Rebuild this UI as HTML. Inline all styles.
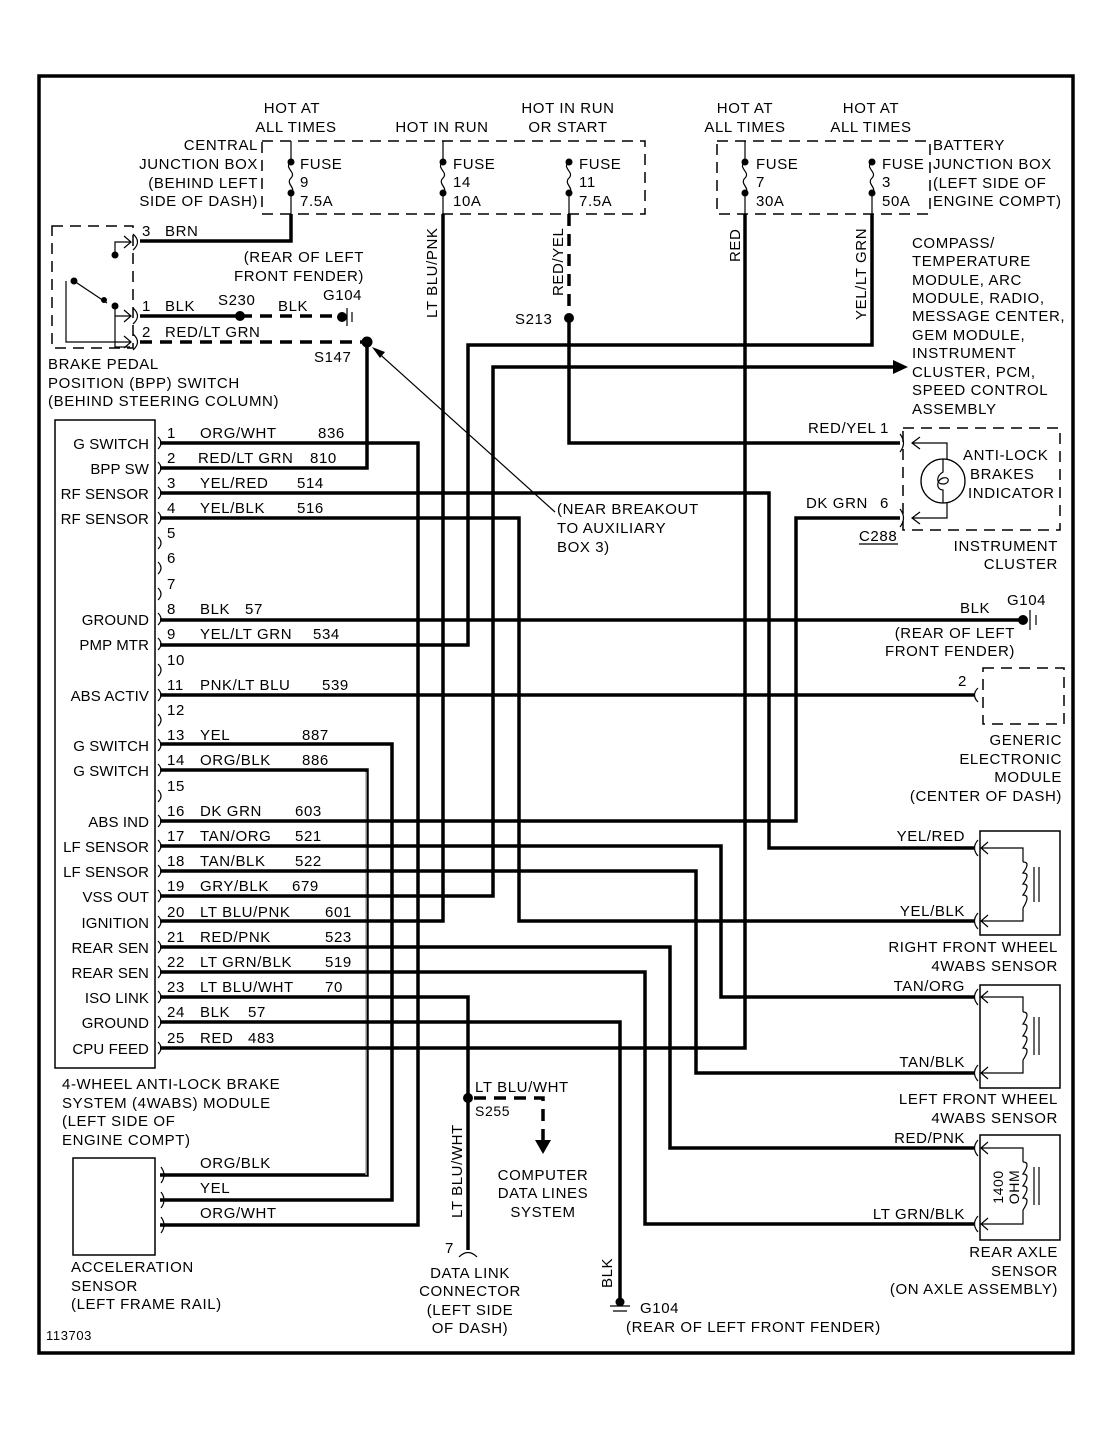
<!DOCTYPE html>
<html><head><meta charset="utf-8"><style>
html,body{margin:0;padding:0;background:#fff}
svg{display:block}
text{font-family:"Liberation Sans",Arial,sans-serif;font-size:15px;fill:#000;letter-spacing:0.6px}
.w{stroke:#000;stroke-width:3.5;fill:none}
.t{stroke:#000;stroke-width:1.2;fill:none}
.d{stroke:#000;stroke-width:1.5;fill:none;stroke-dasharray:11,7}
.dw{stroke:#000;stroke-width:3.5;fill:none;stroke-dasharray:12,8}
.r{text-anchor:end}
.m{text-anchor:middle}
.ml text{letter-spacing:0.1px}
</style></head><body>
<svg width="1112" height="1429" viewBox="0 0 1112 1429" xmlns="http://www.w3.org/2000/svg">
<rect x="39" y="76" width="1034" height="1277" fill="none" stroke="#000" stroke-width="3.5"/>

<text x="292" y="113" class="m">HOT AT</text>
<text x="296" y="132" class="m">ALL TIMES</text>
<text x="442" y="132" class="m">HOT IN RUN</text>
<text x="568" y="113" class="m">HOT IN RUN</text>
<text x="568" y="132" class="m">OR START</text>
<text x="745" y="113" class="m">HOT AT</text>
<text x="745" y="132" class="m">ALL TIMES</text>
<text x="871" y="113" class="m">HOT AT</text>
<text x="871" y="132" class="m">ALL TIMES</text>
<text x="258" y="150" class="r">CENTRAL</text>
<text x="258" y="169" class="r">JUNCTION BOX</text>
<text x="258" y="188" class="r">(BEHIND LEFT</text>
<text x="258" y="206" class="r">SIDE OF DASH)</text>
<text x="933" y="150">BATTERY</text>
<text x="933" y="169">JUNCTION BOX</text>
<text x="933" y="188">(LEFT SIDE OF</text>
<text x="933" y="206">ENGINE COMPT)</text>

<path class="d" d="M262 141 H645 V214 H262 Z"/>
<path class="d" d="M717 141 H930 V214 H717 Z"/>
<g>
<path class="t" d="M291 141 V162 M291 193 V214"/>
<path class="t" d="M291 162 C283 168,297 172,291 178 C285 184,297 188,291 193"/>
<circle cx="291" cy="162" r="3.5"/><circle cx="291" cy="193" r="3.5"/>
<text x="300" y="169">FUSE</text><text x="300" y="187">9</text><text x="300" y="206">7.5A</text>

<path class="t" d="M443 141 V162 M443 193 V214"/>
<path class="t" d="M443 162 C435 168,449 172,443 178 C437 184,449 188,443 193"/>
<circle cx="443" cy="162" r="3.5"/><circle cx="443" cy="193" r="3.5"/>
<text x="453" y="169">FUSE</text><text x="453" y="187">14</text><text x="453" y="206">10A</text>

<path class="t" d="M569 193 V214"/>
<path class="t" d="M569 162 C561 168,575 172,569 178 C563 184,575 188,569 193"/>
<circle cx="569" cy="162" r="3.5"/><circle cx="569" cy="193" r="3.5"/>
<text x="579" y="169">FUSE</text><text x="579" y="187">11</text><text x="579" y="206">7.5A</text>

<path class="t" d="M745 141 V162 M745 193 V214"/>
<path class="t" d="M745 162 C737 168,751 172,745 178 C739 184,751 188,745 193"/>
<circle cx="745" cy="162" r="3.5"/><circle cx="745" cy="193" r="3.5"/>
<text x="756" y="169">FUSE</text><text x="756" y="187">7</text><text x="756" y="206">30A</text>

<path class="t" d="M872 193 V214"/>
<path class="t" d="M872 162 C864 168,878 172,872 178 C866 184,878 188,872 193"/>
<circle cx="872" cy="162" r="3.5"/><circle cx="872" cy="193" r="3.5"/>
<text x="882" y="169">FUSE</text><text x="882" y="187">3</text><text x="882" y="206">50A</text>
</g>

<path class="d" d="M52 226 H133 V348 H52 Z"/>
<path class="t" d="M115 256 V242 H130 M115 315 V347 H130 M66 281 V342 H130 M74 281 L107 303 M115 305 V316 H130"/>
<circle cx="115" cy="255" r="3.5"/><circle cx="74" cy="281" r="3.5"/><circle cx="104" cy="300" r="3"/><circle cx="115" cy="306" r="3.5"/>
<path class="t" d="M124 236 L131 242 L124 248 M124 310 L131 316 L124 322 M124 336 L131 342 L124 348"/>
<path class="t" d="M133 234 Q142 242 133 250 M133 308 Q142 316 133 324 M133 334 Q142 342 133 350"/>
<path class="w" d="M140 241 H291 V214"/>
<text x="142" y="236">3</text><text x="165" y="236">BRN</text>
<path class="w" d="M140 316 H240"/>
<path class="dw" d="M240 316 H340"/>
<circle cx="240" cy="316" r="5"/><circle cx="342" cy="317" r="5"/>
<path class="t" d="M347 308 V326 M352 312 V322"/>
<text x="142" y="311">1</text><text x="165" y="311">BLK</text><text x="218" y="305">S230</text><text x="278" y="311">BLK</text>
<text x="323" y="300">G104</text>
<text x="364" y="262" class="r">(REAR OF LEFT</text>
<text x="364" y="281" class="r">FRONT FENDER)</text>
<path class="dw" d="M140 342 H367"/>
<circle cx="367" cy="342" r="5.5"/>
<text x="142" y="337">2</text><text x="165" y="337">RED/LT GRN</text>
<text x="314" y="362">S147</text>
<text x="48" y="369">BRAKE PEDAL</text>
<text x="48" y="388">POSITION (BPP) SWITCH</text>
<text x="48" y="406">(BEHIND STEERING COLUMN)</text>
<path class="w" d="M367 342 V468 H160"/>
<path class="t" d="M555 512 L374 349"/>
<path d="M372 347 L385 352 L380 358 Z"/>
<text x="557" y="514">(NEAR BREAKOUT</text>
<text x="557" y="533">TO AUXILIARY</text>
<text x="557" y="552">BOX 3)</text>

<rect x="55" y="420" width="100" height="648" fill="none" stroke="#000" stroke-width="1.5"/>
<g class="t">
<path d="M158 437 Q164 443 158 449 M158 462 Q164 468 158 474 M158 487 Q164 493 158 499 M158 512 Q164 518 158 524 M158 537 Q164 543 158 549 M158 562 Q164 568 158 574 M158 588 Q164 594 158 600 M158 613 Q164 619 158 625 M158 638 Q164 644 158 650 M158 664 Q164 670 158 676 M158 689 Q164 695 158 701 M158 714 Q164 720 158 726 M158 739 Q164 745 158 751 M158 764 Q164 770 158 776 M158 790 Q164 796 158 802 M158 815 Q164 821 158 827 M158 840 Q164 846 158 852 M158 865 Q164 871 158 877 M158 890 Q164 896 158 902 M158 916 Q164 922 158 928 M158 941 Q164 947 158 953 M158 966 Q164 972 158 978 M158 991 Q164 997 158 1003 M158 1016 Q164 1022 158 1028 M158 1042 Q164 1048 158 1054"/>
</g>
<g class="ml">
<text x="149" y="449" class="r">G SWITCH</text>
<text x="149" y="474" class="r">BPP SW</text>
<text x="149" y="499" class="r">RF SENSOR</text>
<text x="149" y="524" class="r">RF SENSOR</text>
<text x="149" y="625" class="r">GROUND</text>
<text x="149" y="650" class="r">PMP MTR</text>
<text x="149" y="701" class="r">ABS ACTIV</text>
<text x="149" y="751" class="r">G SWITCH</text>
<text x="149" y="776" class="r">G SWITCH</text>
<text x="149" y="827" class="r">ABS IND</text>
<text x="149" y="852" class="r">LF SENSOR</text>
<text x="149" y="877" class="r">LF SENSOR</text>
<text x="149" y="902" class="r">VSS OUT</text>
<text x="149" y="928" class="r">IGNITION</text>
<text x="149" y="953" class="r">REAR SEN</text>
<text x="149" y="978" class="r">REAR SEN</text>
<text x="149" y="1003" class="r">ISO LINK</text>
<text x="149" y="1028" class="r">GROUND</text>
<text x="149" y="1054" class="r">CPU FEED</text>
</g>
<text x="167" y="438">1</text><text x="200" y="438">ORG/WHT</text><text x="318" y="438">836</text>
<text x="167" y="463">2</text><text x="198" y="463">RED/LT GRN</text><text x="310" y="463">810</text>
<text x="167" y="488">3</text><text x="200" y="488">YEL/RED</text><text x="297" y="488">514</text>
<text x="167" y="513">4</text><text x="200" y="513">YEL/BLK</text><text x="297" y="513">516</text>
<text x="167" y="538">5</text><text x="167" y="563">6</text><text x="167" y="589">7</text>
<text x="167" y="614">8</text><text x="200" y="614">BLK</text><text x="245" y="614">57</text>
<text x="167" y="639">9</text><text x="200" y="639">YEL/LT GRN</text><text x="313" y="639">534</text>
<text x="167" y="665">10</text>
<text x="167" y="690">11</text><text x="200" y="690">PNK/LT BLU</text><text x="322" y="690">539</text>
<text x="167" y="715">12</text>
<text x="167" y="740">13</text><text x="200" y="740">YEL</text><text x="302" y="740">887</text>
<text x="167" y="765">14</text><text x="200" y="765">ORG/BLK</text><text x="302" y="765">886</text>
<text x="167" y="791">15</text>
<text x="167" y="816">16</text><text x="200" y="816">DK GRN</text><text x="295" y="816">603</text>
<text x="167" y="841">17</text><text x="200" y="841">TAN/ORG</text><text x="295" y="841">521</text>
<text x="167" y="866">18</text><text x="200" y="866">TAN/BLK</text><text x="295" y="866">522</text>
<text x="167" y="891">19</text><text x="200" y="891">GRY/BLK</text><text x="292" y="891">679</text>
<text x="167" y="917">20</text><text x="200" y="917">LT BLU/PNK</text><text x="325" y="917">601</text>
<text x="167" y="942">21</text><text x="200" y="942">RED/PNK</text><text x="325" y="942">523</text>
<text x="167" y="967">22</text><text x="200" y="967">LT GRN/BLK</text><text x="325" y="967">519</text>
<text x="167" y="992">23</text><text x="200" y="992">LT BLU/WHT</text><text x="325" y="992">70</text>
<text x="167" y="1017">24</text><text x="200" y="1017">BLK</text><text x="248" y="1017">57</text>
<text x="167" y="1043">25</text><text x="200" y="1043">RED</text><text x="248" y="1043">483</text>

<path class="w" d="M160 443 H418 V1225 H160"/>
<path class="w" d="M160 493 H769 V848 H975"/>
<path class="w" d="M160 518 H519 V921 H975"/>
<path class="w" d="M160 620 H1022"/>
<path class="w" d="M160 645 H468 V345 H872 V214"/>
<path class="w" d="M160 695 H975"/>
<path class="w" d="M160 744 H392 V1200 H160"/>
<path d="M160 770 H367 V1175 H160" fill="none" stroke="#000" stroke-width="3.5"/>
<path d="M366 772 V1175" fill="none" stroke="#fff" stroke-width="1"/>
<path class="w" d="M160 821 H796 V518 H900"/>
<path class="w" d="M160 846 H721 V997 H975"/>
<path class="w" d="M160 871 H696 V1073 H975"/>
<path class="w" d="M160 896 H493 V367 H893"/>
<path d="M893 360 L908 367 L893 374 Z"/>
<path class="w" d="M160 921 H443 V214"/>
<path class="w" d="M160 947 H670 V1148 H975"/>
<path class="w" d="M160 972 H645 V1224 H975"/>
<path class="w" d="M160 997 H468 V1250"/>
<path class="w" d="M160 1022 H620 V1300"/>
<path class="w" d="M160 1048 H745 V214"/>
<path class="dw" d="M569 214 V318"/>
<path class="w" d="M569 318 V443 H900"/>
<circle cx="569" cy="318" r="5"/>
<text x="515" y="324">S213</text>

<text transform="translate(437,318) rotate(-90)">LT BLU/PNK</text>
<text transform="translate(563,296) rotate(-90)">RED/YEL</text>
<text transform="translate(740,262) rotate(-90)">RED</text>
<text transform="translate(866,320) rotate(-90)">YEL/LT GRN</text>
<text transform="translate(462,1218) rotate(-90)">LT BLU/WHT</text>
<text transform="translate(612,1288) rotate(-90)">BLK</text>

<text x="912" y="248">COMPASS/</text>
<text x="912" y="266">TEMPERATURE</text>
<text x="912" y="285">MODULE, ARC</text>
<text x="912" y="303">MODULE, RADIO,</text>
<text x="912" y="321">MESSAGE CENTER,</text>
<text x="912" y="340">GEM MODULE,</text>
<text x="912" y="358">INSTRUMENT</text>
<text x="912" y="377">CLUSTER, PCM,</text>
<text x="912" y="395">SPEED CONTROL</text>
<text x="912" y="414">ASSEMBLY</text>

<path class="d" d="M903 428 H1060 V530 H903 Z"/>
<path class="t" d="M900 434 Q907 443 900 452 M900 509 Q907 518 900 527"/>
<path class="t" d="M920 437 L912 443 L920 449 M920 512 L912 518 L920 524 M912 443 H947 V518 H912"/>
<circle cx="943" cy="481" r="22" fill="#fff" stroke="#000" stroke-width="1.3"/>
<path class="t" d="M943 459 V472 C936 476,936 484,943 484 C950 484,950 476,943 478 C936 480,936 490,943 490 V503"/>
<text x="808" y="433">RED/YEL</text><text x="880" y="433">1</text>
<text x="806" y="508">DK GRN</text><text x="880" y="508">6</text>
<text x="859" y="541">C288</text><path class="t" d="M859 544 H898"/>
<text x="963" y="460">ANTI-LOCK</text>
<text x="970" y="479">BRAKES</text>
<text x="968" y="498">INDICATOR</text>
<text x="1058" y="551" class="r">INSTRUMENT</text>
<text x="1058" y="569" class="r">CLUSTER</text>

<circle cx="1023" cy="620" r="5"/>
<path class="t" d="M1030 610 V630 M1036 615 V625"/>
<text x="960" y="613">BLK</text><text x="1007" y="605">G104</text>
<text x="1015" y="638" class="r">(REAR OF LEFT</text>
<text x="1015" y="656" class="r">FRONT FENDER)</text>

<path class="d" d="M983 668 H1064 V724 H983 Z"/>
<path class="t" d="M978 688 Q971 695 978 702"/>
<text x="958" y="686">2</text>
<text x="1062" y="745" class="r">GENERIC</text>
<text x="1062" y="764" class="r">ELECTRONIC</text>
<text x="1062" y="782" class="r">MODULE</text>
<text x="1062" y="801" class="r">(CENTER OF DASH)</text>

<g>
<rect x="980" y="831" width="80" height="104" fill="none" stroke="#000" stroke-width="1.5"/>
<path class="t" d="M978 840 Q971 848 978 856 M978 913 Q971 921 978 929 M988 842 L981 848 L988 854 M988 915 L981 921 L988 927 M981 848 H1023 V862 M1023 908 V921 H981 M1023 862 q8 0 0 11 q8 0 0 11 q8 0 0 11 q8 0 0 13 M1034 867 V902 M1039 867 V902"/>
<text x="965" y="841" class="r">YEL/RED</text>
<text x="965" y="916" class="r">YEL/BLK</text>
<text x="1058" y="952" class="r">RIGHT FRONT WHEEL</text>
<text x="1058" y="971" class="r">4WABS SENSOR</text>

<rect x="980" y="985" width="80" height="103" fill="none" stroke="#000" stroke-width="1.5"/>
<path class="t" d="M978 989 Q971 997 978 1005 M978 1065 Q971 1073 978 1081 M988 991 L981 997 L988 1003 M988 1067 L981 1073 L988 1079 M981 997 H1023 V1012 M1023 1060 V1073 H981 M1023 1012 q8 0 0 12 q8 0 0 12 q8 0 0 12 q8 0 0 12 M1034 1017 V1055 M1039 1017 V1055"/>
<text x="965" y="991" class="r">TAN/ORG</text>
<text x="965" y="1067" class="r">TAN/BLK</text>
<text x="1058" y="1104" class="r">LEFT FRONT WHEEL</text>
<text x="1058" y="1123" class="r">4WABS SENSOR</text>

<rect x="980" y="1135" width="80" height="105" fill="none" stroke="#000" stroke-width="1.5"/>
<path class="t" d="M978 1140 Q971 1148 978 1156 M978 1216 Q971 1224 978 1232 M988 1142 L981 1148 L988 1154 M988 1218 L981 1224 L988 1230 M981 1148 H1023 V1162 M1023 1210 V1224 H981 M1023 1162 q8 0 0 12 q8 0 0 12 q8 0 0 12 q8 0 0 12 M1034 1167 V1205 M1039 1167 V1205"/>
<text transform="translate(1003,1187) rotate(-90)" class="m" style="font-size:14px">1400</text>
<text transform="translate(1019,1187) rotate(-90)" class="m" style="font-size:14px">OHM</text>
<text x="965" y="1143" class="r">RED/PNK</text>
<text x="965" y="1219" class="r">LT GRN/BLK</text>
<text x="1058" y="1257" class="r">REAR AXLE</text>
<text x="1058" y="1276" class="r">SENSOR</text>
<text x="1058" y="1294" class="r">(ON AXLE ASSEMBLY)</text>
</g>

<text x="62" y="1089">4-WHEEL ANTI-LOCK BRAKE</text>
<text x="62" y="1108">SYSTEM (4WABS) MODULE</text>
<text x="62" y="1126">(LEFT SIDE OF</text>
<text x="62" y="1145">ENGINE COMPT)</text>

<rect x="73" y="1158" width="82" height="97" fill="none" stroke="#000" stroke-width="1.5"/>
<path class="t" d="M161 1167 Q167 1175 161 1183 M161 1192 Q167 1200 161 1208 M161 1217 Q167 1225 161 1233"/>
<text x="200" y="1168">ORG/BLK</text>
<text x="200" y="1193">YEL</text>
<text x="200" y="1218">ORG/WHT</text>
<text x="71" y="1272">ACCELERATION</text>
<text x="71" y="1291">SENSOR</text>
<text x="71" y="1309">(LEFT FRAME RAIL)</text>
<text x="46" y="1340" style="font-size:13px">113703</text>

<circle cx="468" cy="1098" r="5"/>
<path class="dw" d="M474 1098 H543 V1142"/>
<path d="M535 1140 L551 1140 L543 1154 Z"/>
<text x="475" y="1092">LT BLU/WHT</text>
<text x="475" y="1116" style="font-size:14px">S255</text>
<text x="543" y="1180" class="m">COMPUTER</text>
<text x="543" y="1198" class="m">DATA LINES</text>
<text x="543" y="1217" class="m">SYSTEM</text>
<path class="t" d="M459 1257 Q468 1248 477 1257"/>
<text x="445" y="1253">7</text>
<text x="470" y="1278" class="m">DATA LINK</text>
<text x="470" y="1296" class="m">CONNECTOR</text>
<text x="470" y="1315" class="m">(LEFT SIDE</text>
<text x="470" y="1333" class="m">OF DASH)</text>

<circle cx="620" cy="1302" r="4.5"/>
<path class="t" d="M610 1306 H630 M613 1311 H627"/>
<text x="640" y="1313">G104</text>
<text x="626" y="1332">(REAR OF LEFT FRONT FENDER)</text>
</svg>
</body></html>
